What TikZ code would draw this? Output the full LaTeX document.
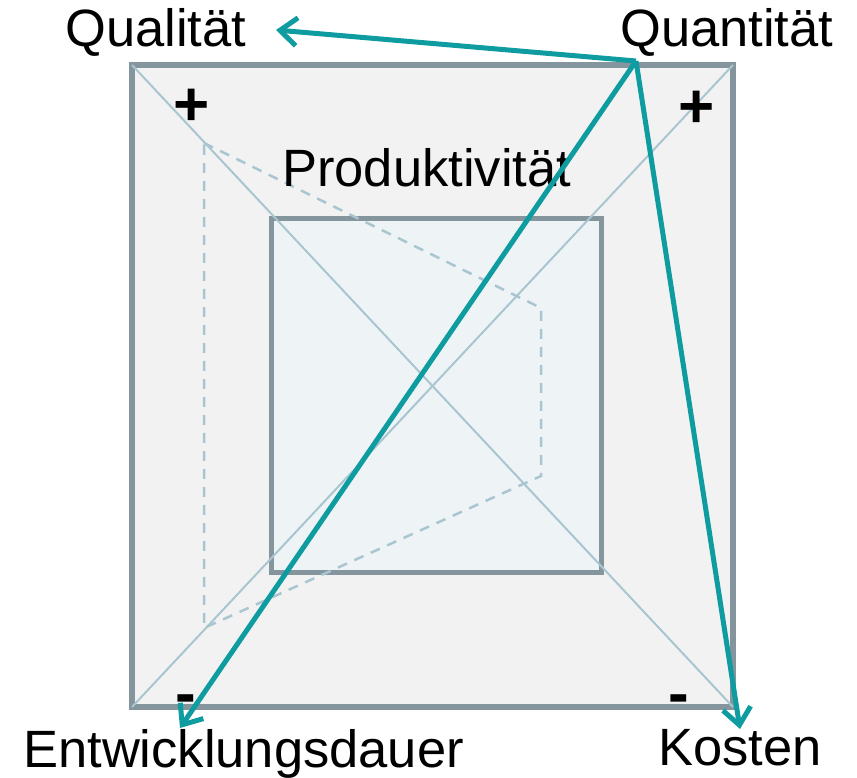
\documentclass[tikz,border=0pt]{standalone}
\usepackage{fontspec}
\setmainfont{Liberation Sans}
\usetikzlibrary{arrows.meta}
\definecolor{framegray}{HTML}{85959D}
\definecolor{outerfill}{HTML}{F2F2F2}
\definecolor{innerfill}{HTML}{EEF3F6}
\definecolor{diagblue}{HTML}{A9C6D0}
\definecolor{tealc}{HTML}{0E9CA0}
\tikzset{
  lbl/.style={inner sep=0pt, font=\fontsize{52.5}{60}\selectfont, text=black},
  sign/.style={inner sep=0pt, font=\fontsize{62}{70}\selectfont\bfseries, text=black},
  outerbox/.style={draw=framegray, line width=6pt, fill=outerfill},
  innerbox/.style={draw=framegray, line width=5pt, fill=innerfill},
  diag/.style={draw=diagblue, line width=2pt},
  dashline/.style={draw=diagblue, line width=2.5pt, dash pattern=on 10pt off 8pt},
  tealarrow/.style={draw=tealc, line width=5pt, -{Straight Barb[length=17pt,width=28pt,line width=5pt]}}
}
\begin{document}
\begin{tikzpicture}[x=1pt,y=-1pt]
\useasboundingbox (0,0) rectangle (857,778);
% corners
\coordinate (oTL) at (132,65);
\coordinate (oTR) at (733,65);
\coordinate (oBL) at (132,707);
\coordinate (oBR) at (733,707);
\path[outerbox] (oTL) rectangle (oBR);
\coordinate (iTL) at (271,219);
\coordinate (iBR) at (601,572);
\path[innerbox] (iTL) rectangle (iBR);
% diagonals
\draw[diag] (oTL) -- (oBR);
\draw[diag] (oBL) -- (oTR);
% dashed polygon
\coordinate (dA) at (204,143);
\coordinate (dB) at (541,308);
\coordinate (dC) at (541,476);
\coordinate (dD) at (204,628);
\draw[dashline] (dA) -- (dB) -- (dC) -- (dD) -- cycle;
% labels
\node[lbl, anchor=base west] (qual) at (65,47) {Qualität};
\node[lbl, anchor=base west] (quant) at (620,47) {Quantität};
\node[lbl, anchor=base west] (entw) at (23,767) {Entwicklungsdauer};
\node[lbl, anchor=base west] (kost) at (658,765) {Kosten};
\node[lbl, anchor=base west] (prod) at (282,187) {Produktivität};
% signs
\node[sign, anchor=base] (p1) at (192,126) {+};
\node[sign, anchor=base] (p2) at (697,128) {+};
\node[sign, anchor=base] (m1) at (186,714) {-};
\node[sign, anchor=base] (m2) at (679,714) {-};
% arrows
\coordinate (src) at (636,61);
\coordinate (tQual) at (276,30);
\coordinate (tEntw) at (180,728);
\coordinate (tKost) at (740,729);
\draw[tealarrow] (src) -- (tQual);
\draw[tealarrow] (src) -- (tEntw);
\draw[tealarrow] (src) -- (tKost);
\end{tikzpicture}
\end{document}
